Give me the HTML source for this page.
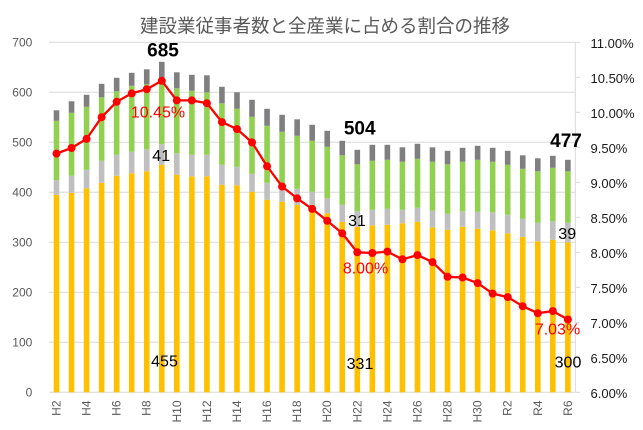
<!DOCTYPE html>
<html><head><meta charset="utf-8"><style>
html,body{margin:0;padding:0;background:#fff;}
svg{display:block;}
text{font-family:"Liberation Sans","Noto Sans CJK JP",sans-serif;}
</style></head><body>
<svg width="643" height="430" viewBox="0 0 643 430" xmlns="http://www.w3.org/2000/svg">
<rect width="643" height="430" fill="#fff"/>
<text x="325" y="32.5" text-anchor="middle" font-size="18.5" fill="#595959">建設業従事者数と全産業に占める割合の推移</text>
<g stroke="#d9d9d9" stroke-width="1">
<line x1="49" y1="42.3" x2="575.3" y2="42.3"/>
<line x1="49" y1="92.3" x2="575.3" y2="92.3"/>
<line x1="49" y1="142.3" x2="575.3" y2="142.3"/>
<line x1="49" y1="192.3" x2="575.3" y2="192.3"/>
<line x1="49" y1="242.3" x2="575.3" y2="242.3"/>
<line x1="49" y1="292.3" x2="575.3" y2="292.3"/>
<line x1="49" y1="342.3" x2="575.3" y2="342.3"/>
<line x1="49" y1="392.3" x2="575.3" y2="392.3"/>
<line x1="575.3" y1="42.3" x2="575.3" y2="392.3"/>
<line x1="575.3" y1="42.3" x2="580" y2="42.3"/>
<line x1="575.3" y1="77.3" x2="580" y2="77.3"/>
<line x1="575.3" y1="112.3" x2="580" y2="112.3"/>
<line x1="575.3" y1="147.3" x2="580" y2="147.3"/>
<line x1="575.3" y1="182.3" x2="580" y2="182.3"/>
<line x1="575.3" y1="217.3" x2="580" y2="217.3"/>
<line x1="575.3" y1="252.3" x2="580" y2="252.3"/>
<line x1="575.3" y1="287.3" x2="580" y2="287.3"/>
<line x1="575.3" y1="322.3" x2="580" y2="322.3"/>
<line x1="575.3" y1="357.3" x2="580" y2="357.3"/>
<line x1="575.3" y1="392.3" x2="580" y2="392.3"/>
</g>
<g font-size="12" fill="#595959" text-anchor="end">
<text x="32.3" y="46.6">700</text>
<text x="32.3" y="96.6">600</text>
<text x="32.3" y="146.6">500</text>
<text x="32.3" y="196.6">400</text>
<text x="32.3" y="246.6">300</text>
<text x="32.3" y="296.6">200</text>
<text x="32.3" y="346.6">100</text>
<text x="32.3" y="396.6">0</text>
</g>
<g font-size="13" fill="#1a1a1a">
<text x="590.5" y="47.8">11.00%</text>
<text x="590.5" y="82.8">10.50%</text>
<text x="590.5" y="117.8">10.00%</text>
<text x="590.5" y="152.8">9.50%</text>
<text x="590.5" y="187.8">9.00%</text>
<text x="590.5" y="222.8">8.50%</text>
<text x="590.5" y="257.8">8.00%</text>
<text x="590.5" y="292.8">7.50%</text>
<text x="590.5" y="327.8">7.00%</text>
<text x="590.5" y="362.8">6.50%</text>
<text x="590.5" y="397.8">6.00%</text>
</g>
<!-- yellow -->
<g fill="#ffc000">
<rect x="53.70" y="194.8" width="5.6" height="197.5"/>
<rect x="68.74" y="192.8" width="5.6" height="199.5"/>
<rect x="83.78" y="188.3" width="5.6" height="204"/>
<rect x="98.82" y="182.8" width="5.6" height="209.5"/>
<rect x="113.86" y="175.8" width="5.6" height="216.5"/>
<rect x="128.90" y="173.3" width="5.6" height="219"/>
<rect x="143.94" y="171.3" width="5.6" height="221"/>
<rect x="158.98" y="164.8" width="5.6" height="227.5"/>
<rect x="174.02" y="174.8" width="5.6" height="217.5"/>
<rect x="189.06" y="176.3" width="5.6" height="216"/>
<rect x="204.10" y="176.3" width="5.6" height="216"/>
<rect x="219.14" y="184.8" width="5.6" height="207.5"/>
<rect x="234.18" y="185.3" width="5.6" height="207"/>
<rect x="249.22" y="191.8" width="5.6" height="200.5"/>
<rect x="264.26" y="199.8" width="5.6" height="192.5"/>
<rect x="279.30" y="201.8" width="5.6" height="190.5"/>
<rect x="294.34" y="204.8" width="5.6" height="187.5"/>
<rect x="309.38" y="205.3" width="5.6" height="187"/>
<rect x="324.42" y="213.3" width="5.6" height="179"/>
<rect x="339.46" y="221.8" width="5.6" height="170.5"/>
<rect x="354.50" y="226.8" width="5.6" height="165.5"/>
<rect x="369.54" y="225.3" width="5.6" height="167"/>
<rect x="384.58" y="224.8" width="5.6" height="167.5"/>
<rect x="399.62" y="223.3" width="5.6" height="169"/>
<rect x="414.66" y="221.8" width="5.6" height="170.5"/>
<rect x="429.70" y="227.3" width="5.6" height="165"/>
<rect x="444.74" y="229.8" width="5.6" height="162.5"/>
<rect x="459.78" y="226.8" width="5.6" height="165.5"/>
<rect x="474.82" y="228.8" width="5.6" height="163.5"/>
<rect x="489.86" y="230.3" width="5.6" height="162"/>
<rect x="504.90" y="233.3" width="5.6" height="159"/>
<rect x="519.94" y="236.8" width="5.6" height="155.5"/>
<rect x="534.98" y="241.3" width="5.6" height="151"/>
<rect x="550.02" y="239.8" width="5.6" height="152.5"/>
<rect x="565.06" y="242.3" width="5.6" height="150"/>
</g>
<!-- light gray -->
<g fill="#bfbfbf">
<rect x="53.70" y="180.3" width="5.6" height="14.5"/>
<rect x="68.74" y="175.8" width="5.6" height="17"/>
<rect x="83.78" y="169.8" width="5.6" height="18.5"/>
<rect x="98.82" y="160.8" width="5.6" height="22"/>
<rect x="113.86" y="154.8" width="5.6" height="21"/>
<rect x="128.90" y="151.8" width="5.6" height="21.5"/>
<rect x="143.94" y="149.3" width="5.6" height="22"/>
<rect x="158.98" y="144.3" width="5.6" height="20.5"/>
<rect x="174.02" y="153.3" width="5.6" height="21.5"/>
<rect x="189.06" y="154.8" width="5.6" height="21.5"/>
<rect x="204.10" y="154.8" width="5.6" height="21.5"/>
<rect x="219.14" y="164.8" width="5.6" height="20"/>
<rect x="234.18" y="166.8" width="5.6" height="18.5"/>
<rect x="249.22" y="173.8" width="5.6" height="18"/>
<rect x="264.26" y="182.8" width="5.6" height="17"/>
<rect x="279.30" y="185.8" width="5.6" height="16"/>
<rect x="294.34" y="188.8" width="5.6" height="16"/>
<rect x="309.38" y="191.8" width="5.6" height="13.5"/>
<rect x="324.42" y="198.3" width="5.6" height="15"/>
<rect x="339.46" y="204.8" width="5.6" height="17"/>
<rect x="354.50" y="211.3" width="5.6" height="15.5"/>
<rect x="369.54" y="209.8" width="5.6" height="15.5"/>
<rect x="384.58" y="208.8" width="5.6" height="16"/>
<rect x="399.62" y="209.8" width="5.6" height="13.5"/>
<rect x="414.66" y="207.8" width="5.6" height="14"/>
<rect x="429.70" y="210.8" width="5.6" height="16.5"/>
<rect x="444.74" y="213.8" width="5.6" height="16"/>
<rect x="459.78" y="211.3" width="5.6" height="15.5"/>
<rect x="474.82" y="211.8" width="5.6" height="17"/>
<rect x="489.86" y="212.3" width="5.6" height="18"/>
<rect x="504.90" y="214.8" width="5.6" height="18.5"/>
<rect x="519.94" y="218.8" width="5.6" height="18"/>
<rect x="534.98" y="222.8" width="5.6" height="18.5"/>
<rect x="550.02" y="221.3" width="5.6" height="18.5"/>
<rect x="565.06" y="222.8" width="5.6" height="19.5"/>
</g>
<!-- green -->
<g fill="#92d050">
<rect x="53.70" y="120.8" width="5.6" height="59.5"/>
<rect x="68.74" y="112.8" width="5.6" height="63"/>
<rect x="83.78" y="106.8" width="5.6" height="63"/>
<rect x="98.82" y="97.3" width="5.6" height="63.5"/>
<rect x="113.86" y="91.3" width="5.6" height="63.5"/>
<rect x="128.90" y="85.8" width="5.6" height="66"/>
<rect x="143.94" y="84.3" width="5.6" height="65"/>
<rect x="158.98" y="80.3" width="5.6" height="64"/>
<rect x="174.02" y="88.3" width="5.6" height="65"/>
<rect x="189.06" y="90.8" width="5.6" height="64"/>
<rect x="204.10" y="92.3" width="5.6" height="62.5"/>
<rect x="219.14" y="103.3" width="5.6" height="61.5"/>
<rect x="234.18" y="108.8" width="5.6" height="58"/>
<rect x="249.22" y="116.8" width="5.6" height="57"/>
<rect x="264.26" y="125.8" width="5.6" height="57"/>
<rect x="279.30" y="131.8" width="5.6" height="54"/>
<rect x="294.34" y="135.8" width="5.6" height="53"/>
<rect x="309.38" y="140.8" width="5.6" height="51"/>
<rect x="324.42" y="146.8" width="5.6" height="51.5"/>
<rect x="339.46" y="155.3" width="5.6" height="49.5"/>
<rect x="354.50" y="164.3" width="5.6" height="47"/>
<rect x="369.54" y="160.8" width="5.6" height="49"/>
<rect x="384.58" y="159.8" width="5.6" height="49"/>
<rect x="399.62" y="161.8" width="5.6" height="48"/>
<rect x="414.66" y="158.8" width="5.6" height="49"/>
<rect x="429.70" y="161.8" width="5.6" height="49"/>
<rect x="444.74" y="164.3" width="5.6" height="49.5"/>
<rect x="459.78" y="161.8" width="5.6" height="49.5"/>
<rect x="474.82" y="159.8" width="5.6" height="52"/>
<rect x="489.86" y="161.8" width="5.6" height="50.5"/>
<rect x="504.90" y="164.8" width="5.6" height="50"/>
<rect x="519.94" y="168.8" width="5.6" height="50"/>
<rect x="534.98" y="171.3" width="5.6" height="51.5"/>
<rect x="550.02" y="167.8" width="5.6" height="53.5"/>
<rect x="565.06" y="171.3" width="5.6" height="51.5"/>
</g>
<!-- dark gray -->
<g fill="#7f7f7f">
<rect x="53.70" y="110.3" width="5.6" height="10.5"/>
<rect x="68.74" y="101.3" width="5.6" height="11.5"/>
<rect x="83.78" y="94.8" width="5.6" height="12"/>
<rect x="98.82" y="83.8" width="5.6" height="13.5"/>
<rect x="113.86" y="77.8" width="5.6" height="13.5"/>
<rect x="128.90" y="72.8" width="5.6" height="13"/>
<rect x="143.94" y="69.3" width="5.6" height="15"/>
<rect x="158.98" y="61.8" width="5.6" height="18.5"/>
<rect x="174.02" y="72.3" width="5.6" height="16"/>
<rect x="189.06" y="74.8" width="5.6" height="16"/>
<rect x="204.10" y="75.3" width="5.6" height="17"/>
<rect x="219.14" y="86.8" width="5.6" height="16.5"/>
<rect x="234.18" y="92.3" width="5.6" height="16.5"/>
<rect x="249.22" y="99.8" width="5.6" height="17"/>
<rect x="264.26" y="108.8" width="5.6" height="17"/>
<rect x="279.30" y="114.8" width="5.6" height="17"/>
<rect x="294.34" y="119.3" width="5.6" height="16.5"/>
<rect x="309.38" y="124.8" width="5.6" height="16"/>
<rect x="324.42" y="130.8" width="5.6" height="16"/>
<rect x="339.46" y="140.8" width="5.6" height="14.5"/>
<rect x="354.50" y="149.8" width="5.6" height="14.5"/>
<rect x="369.54" y="144.8" width="5.6" height="16"/>
<rect x="384.58" y="144.8" width="5.6" height="15"/>
<rect x="399.62" y="147.3" width="5.6" height="14.5"/>
<rect x="414.66" y="143.8" width="5.6" height="15"/>
<rect x="429.70" y="147.3" width="5.6" height="14.5"/>
<rect x="444.74" y="150.8" width="5.6" height="13.5"/>
<rect x="459.78" y="147.8" width="5.6" height="14"/>
<rect x="474.82" y="145.8" width="5.6" height="14"/>
<rect x="489.86" y="147.8" width="5.6" height="14"/>
<rect x="504.90" y="150.8" width="5.6" height="14"/>
<rect x="519.94" y="155.3" width="5.6" height="13.5"/>
<rect x="534.98" y="158.3" width="5.6" height="13"/>
<rect x="550.02" y="155.8" width="5.6" height="12"/>
<rect x="565.06" y="159.8" width="5.6" height="11.5"/>
</g>
<!-- red line -->
<polyline fill="none" stroke="#ff0000" stroke-width="2.3" stroke-linejoin="round" points="56.50,153.6 71.54,148.0 86.58,138.9 101.62,117.2 116.66,101.8 131.70,93.4 146.74,89.2 161.78,80.8 176.82,100.4 191.86,100.4 206.90,103.2 221.94,122.1 236.98,129.1 252.02,142.4 267.06,166.2 282.10,186.5 297.14,198.4 312.18,208.9 327.22,220.8 342.26,233.4 357.30,252.3 372.34,253.0 387.38,251.6 402.42,259.3 417.46,255.1 432.50,262.1 447.54,276.8 462.58,277.5 477.62,283.1 492.66,293.6 507.70,297.1 522.74,306.2 537.78,313.2 552.82,311.1 567.86,319.5"/>
<g fill="#ff0000">
<circle cx="56.50" cy="153.6" r="4"/>
<circle cx="71.54" cy="148.0" r="4"/>
<circle cx="86.58" cy="138.9" r="4"/>
<circle cx="101.62" cy="117.2" r="4"/>
<circle cx="116.66" cy="101.8" r="4"/>
<circle cx="131.70" cy="93.4" r="4"/>
<circle cx="146.74" cy="89.2" r="4"/>
<circle cx="161.78" cy="80.8" r="4"/>
<circle cx="176.82" cy="100.4" r="4"/>
<circle cx="191.86" cy="100.4" r="4"/>
<circle cx="206.90" cy="103.2" r="4"/>
<circle cx="221.94" cy="122.1" r="4"/>
<circle cx="236.98" cy="129.1" r="4"/>
<circle cx="252.02" cy="142.4" r="4"/>
<circle cx="267.06" cy="166.2" r="4"/>
<circle cx="282.10" cy="186.5" r="4"/>
<circle cx="297.14" cy="198.4" r="4"/>
<circle cx="312.18" cy="208.9" r="4"/>
<circle cx="327.22" cy="220.8" r="4"/>
<circle cx="342.26" cy="233.4" r="4"/>
<circle cx="357.30" cy="252.3" r="4"/>
<circle cx="372.34" cy="253.0" r="4"/>
<circle cx="387.38" cy="251.6" r="4"/>
<circle cx="402.42" cy="259.3" r="4"/>
<circle cx="417.46" cy="255.1" r="4"/>
<circle cx="432.50" cy="262.1" r="4"/>
<circle cx="447.54" cy="276.8" r="4"/>
<circle cx="462.58" cy="277.5" r="4"/>
<circle cx="477.62" cy="283.1" r="4"/>
<circle cx="492.66" cy="293.6" r="4"/>
<circle cx="507.70" cy="297.1" r="4"/>
<circle cx="522.74" cy="306.2" r="4"/>
<circle cx="537.78" cy="313.2" r="4"/>
<circle cx="552.82" cy="311.1" r="4"/>
<circle cx="567.86" cy="319.5" r="4"/>
</g>
<!-- x labels -->
<g font-size="12" fill="#595959" text-anchor="end">
<text transform="translate(60.5,400.5) rotate(-90)">H2</text>
<text transform="translate(90.58,400.5) rotate(-90)">H4</text>
<text transform="translate(120.66,400.5) rotate(-90)">H6</text>
<text transform="translate(150.74,400.5) rotate(-90)">H8</text>
<text transform="translate(180.82,400.5) rotate(-90)">H10</text>
<text transform="translate(210.90,400.5) rotate(-90)">H12</text>
<text transform="translate(240.98,400.5) rotate(-90)">H14</text>
<text transform="translate(271.06,400.5) rotate(-90)">H16</text>
<text transform="translate(301.14,400.5) rotate(-90)">H18</text>
<text transform="translate(331.22,400.5) rotate(-90)">H20</text>
<text transform="translate(361.30,400.5) rotate(-90)">H22</text>
<text transform="translate(391.38,400.5) rotate(-90)">H24</text>
<text transform="translate(421.46,400.5) rotate(-90)">H26</text>
<text transform="translate(451.54,400.5) rotate(-90)">H28</text>
<text transform="translate(481.62,400.5) rotate(-90)">H30</text>
<text transform="translate(511.70,400.5) rotate(-90)">R2</text>
<text transform="translate(541.78,400.5) rotate(-90)">R4</text>
<text transform="translate(571.86,400.5) rotate(-90)">R6</text>
</g>
<!-- data labels -->
<g font-size="19" font-weight="bold" fill="#000" text-anchor="middle">
<text x="163" y="56.7">685</text>
<text x="359.7" y="134.3">504</text>
<text x="566" y="147">477</text>
</g>
<g font-size="16" fill="#000" text-anchor="middle">
<text x="161.2" y="161">41</text>
<text x="357" y="226">31</text>
<text x="567.2" y="239">39</text>
<text x="164.5" y="366.7">455</text>
<text x="360" y="369">331</text>
<text x="568" y="367.3">300</text>
</g>
<g font-size="16" fill="#ff0000" text-anchor="middle">
<text x="158" y="117.3">10.45%</text>
<text x="365.5" y="273.3">8.00%</text>
<text x="557.5" y="334.7">7.03%</text>
</g>
</svg>
</body></html>
